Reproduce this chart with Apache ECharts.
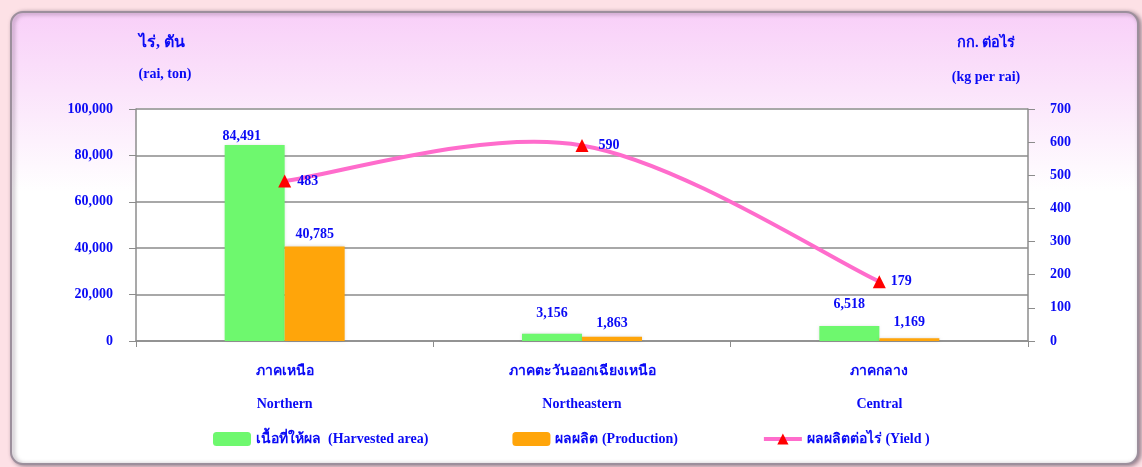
<!DOCTYPE html>
<html>
<head>
<meta charset="utf-8">
<script src="https://cdn.jsdelivr.net/npm/echarts@6/dist/echarts.min.js"></script>
<style>
html,body{margin:0;padding:0;background:#fde1e6;}
#chart{width:1142px;height:467px;}
</style>
</head>
<body>
<div id="chart"></div>
<script>
const categoriesThai = ['ภาคเหนือ', 'ภาคตะวันออกเฉียงเหนือ', 'ภาคกลาง'];
const categoriesEng = ['Northern', 'Northeastern', 'Central'];
const harvestedArea = [84491, 3156, 6518];
const production = [40785, 1863, 1169];
const yieldPerRai = [483, 590, 179];
const leftTicks = [0, 20000, 40000, 60000, 80000, 100000];
const rightTicks = [0, 100, 200, 300, 400, 500, 600, 700];
const seriesNames = ['เนื้อที่ให้ผล  (Harvested area)', 'ผลผลิต (Production)', 'ผลผลิตต่อไร่ (Yield )'];

// label placement styling (as in the original, labels were hand-placed)
const areaLabelStyle = [{distance: 2, offset: [-13, 0]}, {distance: 13, offset: [0, 0]}, {distance: 14, offset: [0, 0]}];
const prodLabelStyle = [{distance: 5, offset: [0, 0]}, {distance: 6, offset: [0, 0]}, {distance: 9, offset: [0, 0]}];
const yieldLabelStyle = [{distance: 6}, {distance: 10}, {distance: 5}];

const BLUE = '#0a0af5';
const PINK = '#ff6ccc';
const FONT = '"Liberation Serif", "Times New Roman", serif';
const fmt = v => Number(v).toLocaleString('en-US');

const chart = echarts.init(document.getElementById('chart'), null, {renderer: 'canvas'});

function smoothCurve(params, api) {
  if (params.dataIndex !== 0) return null;
  const pts = yieldPerRai.map((v, i) => api.coord([i, v]));
  let d = 'M' + pts[0][0] + ' ' + pts[0][1];
  for (let i = 0; i < pts.length - 1; i++) {
    const p0 = pts[i], p1 = pts[i + 1];
    const prev = pts[i - 1] || p0, next = pts[i + 2] || p1;
    const c1 = [p0[0] + (p1[0] - prev[0]) / 6, p0[1] + (p1[1] - prev[1]) / 6];
    const c2 = [p1[0] - (next[0] - p0[0]) / 6, p1[1] - (next[1] - p0[1]) / 6];
    d += ' C' + c1[0] + ' ' + c1[1] + ' ' + c2[0] + ' ' + c2[1] + ' ' + p1[0] + ' ' + p1[1];
  }
  return {
    type: 'path',
    shape: {pathData: d},
    style: {fill: 'none', stroke: PINK, lineWidth: 4, lineCap: 'round', lineJoin: 'round'}
  };
}

const option = {
  backgroundColor: '#fde1e6',
  animation: false,
  textStyle: {fontFamily: FONT, fontWeight: 'bold', color: BLUE},
  graphic: [
    {
      type: 'rect', z: -10, silent: true,
      shape: {x: 11, y: 12, width: 1127, height: 452, r: 12},
      style: {
        fill: new echarts.graphic.LinearGradient(0, 0, 0, 1, [
          {offset: 0, color: '#f8cff8'},
          {offset: 0.4, color: '#ffffff'},
          {offset: 1, color: '#ffffff'}
        ]),
        stroke: '#9c8f9c', lineWidth: 2,
        shadowColor: 'rgba(60,40,60,0.5)', shadowBlur: 4, shadowOffsetX: 2, shadowOffsetY: 1
      }
    },
    {type: 'text', style: {x: 162, y: 35, text: 'ไร่, ตัน', fill: BLUE, font: 'bold 16px ' + FONT, textAlign: 'center'}},
    {type: 'text', style: {x: 165, y: 67, text: '(rai, ton)', fill: BLUE, font: 'bold 14px ' + FONT, textAlign: 'center'}},
    {type: 'text', style: {x: 986, y: 36, text: 'กก. ต่อไร่', fill: BLUE, font: 'bold 14.5px ' + FONT, textAlign: 'center'}},
    {type: 'text', style: {x: 986, y: 70, text: '(kg per rai)', fill: BLUE, font: 'bold 14px ' + FONT, textAlign: 'center'}}
  ],
  grid: {
    left: 136, right: 114, top: 109, bottom: 126,
    show: true, backgroundColor: '#ffffff', borderWidth: 0
  },
  legend: {
    left: 208, top: 427,
    itemWidth: 38, itemHeight: 14, itemGap: 84,
    textStyle: {fontFamily: FONT, fontWeight: 'bold', fontSize: 14, color: BLUE},
    data: [
      seriesNames[0],
      seriesNames[1],
      {name: seriesNames[2], lineStyle: {opacity: 1, color: PINK, width: 4}}
    ]
  },
  xAxis: {
    type: 'category',
    data: categoriesThai.map((t, i) => t + '\n' + categoriesEng[i]),
    axisLine: {lineStyle: {color: '#8c8c8c', width: 1.5}},
    axisTick: {show: true, length: 6, lineStyle: {color: '#8c8c8c'}},
    axisLabel: {
      margin: 14, lineHeight: 33, fontSize: 14, fontWeight: 'bold',
      fontFamily: FONT, color: BLUE
    }
  },
  yAxis: [
    {
      type: 'value', min: leftTicks[0], max: leftTicks[leftTicks.length - 1], interval: 20000,
      axisLine: {show: true, lineStyle: {color: '#8c8c8c', width: 1.5}},
      axisTick: {show: true, inside: false, length: 7, lineStyle: {color: '#8c8c8c'}},
      splitLine: {show: true, lineStyle: {color: '#a8a8a8', width: 2}},
      axisLabel: {margin: 23, fontSize: 14, fontWeight: 'bold', fontFamily: FONT, color: BLUE, formatter: fmt}
    },
    {
      type: 'value', min: rightTicks[0], max: rightTicks[rightTicks.length - 1], interval: 100,
      axisLine: {show: true, lineStyle: {color: '#8c8c8c', width: 1.5}},
      axisTick: {show: true, inside: false, length: 7, lineStyle: {color: '#8c8c8c'}},
      splitLine: {show: false},
      axisLabel: {margin: 22, fontSize: 14, fontWeight: 'bold', fontFamily: FONT, color: BLUE, formatter: fmt}
    }
  ],
  series: [
    {
      name: seriesNames[0], type: 'bar', yAxisIndex: 0,
      data: harvestedArea.map((v, i) => ({value: v, label: areaLabelStyle[i]})),
      barWidth: 60, barGap: '0%',
      itemStyle: {color: '#6ef86e', shadowColor: 'rgba(0,0,0,0.15)', shadowBlur: 3},
      label: {show: true, position: 'top', fontSize: 14, fontWeight: 'bold', fontFamily: FONT, color: BLUE, formatter: p => fmt(p.value)}
    },
    {
      name: seriesNames[1], type: 'bar', yAxisIndex: 0,
      data: production.map((v, i) => ({value: v, label: prodLabelStyle[i]})),
      barWidth: 60, barGap: '0%',
      itemStyle: {color: '#ffa50a', shadowColor: 'rgba(0,0,0,0.15)', shadowBlur: 3},
      label: {show: true, position: 'top', fontSize: 14, fontWeight: 'bold', fontFamily: FONT, color: BLUE, formatter: p => fmt(p.value)}
    },
    {
      name: 'yieldCurve', type: 'custom', yAxisIndex: 1, z: 4, clip: false, silent: true,
      data: yieldPerRai.map((v, i) => [i, v]),
      renderItem: smoothCurve
    },
    {
      name: seriesNames[2], type: 'line', yAxisIndex: 1, z: 5,
      data: yieldPerRai.map((v, i) => ({value: v, label: yieldLabelStyle[i]})),
      lineStyle: {color: PINK, width: 4, opacity: 0},
      itemStyle: {color: '#ff0000'},
      symbol: 'triangle', symbolSize: 13,
      label: {show: true, position: 'right', fontSize: 14, fontWeight: 'bold', fontFamily: FONT, color: BLUE, formatter: p => fmt(p.value)}
    }
  ]
};
chart.setOption(option);
</script>
</body>
</html>
